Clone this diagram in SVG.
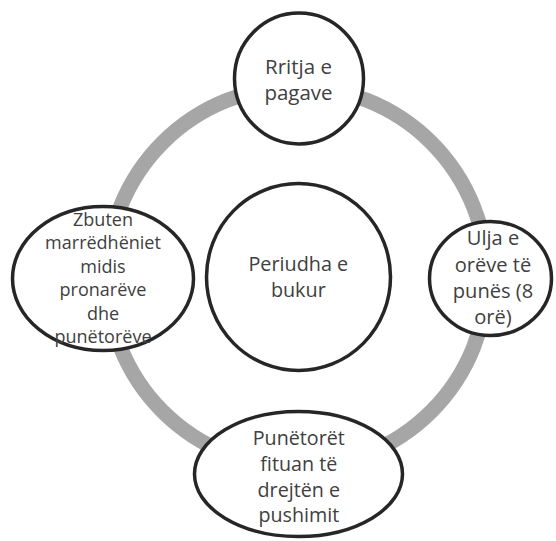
<svg xmlns="http://www.w3.org/2000/svg" width="556" height="541" viewBox="0 0 556 541">
<style>
.node{fill:#ffffff;stroke:#262626;stroke-width:3.5}
.t{font-family:"Open Sans","Liberation Sans",sans-serif;fill:#404040;text-anchor:middle}
</style>
<rect width="556" height="541" fill="#ffffff"/>
<g id="connectors">
<circle cx="297" cy="277" r="190" fill="none" stroke="#a6a6a6" stroke-width="15"/>
</g>
<g id="node-top">
<ellipse class="node" cx="299" cy="78.5" rx="64.5" ry="65.5"/>
<text class="t" font-size="20.5" x="298.5" y="74">Rritja e</text>
<text class="t" font-size="20.5" x="298.5" y="99.5">pagave</text>
</g>
<g id="node-center">
<ellipse class="node" cx="298.5" cy="277" rx="92" ry="93.5"/>
<text class="t" font-size="19.8" x="298.3" y="271">Periudha e</text>
<text class="t" font-size="19.8" x="298.3" y="296.7">bukur</text>
</g>
<g id="node-left">
<ellipse class="node" cx="103" cy="278.5" rx="90.5" ry="72"/>
<text class="t" font-size="18" x="103" y="225.7">Zbuten</text>
<text class="t" font-size="18" x="103" y="249.2">marrëdhëniet</text>
<text class="t" font-size="18" x="103" y="272.7">midis</text>
<text class="t" font-size="18" x="103" y="296.4">pronarëve</text>
<text class="t" font-size="18" x="103" y="320">dhe</text>
<text class="t" font-size="18" x="103" y="343.4">punëtorëve</text>
</g>
<g id="node-right">
<ellipse class="node" cx="490.5" cy="278.5" rx="61" ry="57"/>
<text class="t" font-size="20.1" x="493" y="245">Ulja e</text>
<text class="t" font-size="20.1" x="493" y="272">orëve të</text>
<text class="t" font-size="20.1" x="493" y="298.3">punës (8</text>
<text class="t" font-size="20.1" x="493" y="324.3">orë)</text>
</g>
<g id="node-bottom">
<ellipse class="node" cx="298.5" cy="474" rx="104" ry="62.5"/>
<text class="t" font-size="19.7" x="298.8" y="445">Punëtorët</text>
<text class="t" font-size="19.7" x="298.8" y="471">fituan të</text>
<text class="t" font-size="19.7" x="298.8" y="496.5">drejtën e</text>
<text class="t" font-size="19.7" x="298.8" y="521.7">pushimit</text>
</g>
</svg>
